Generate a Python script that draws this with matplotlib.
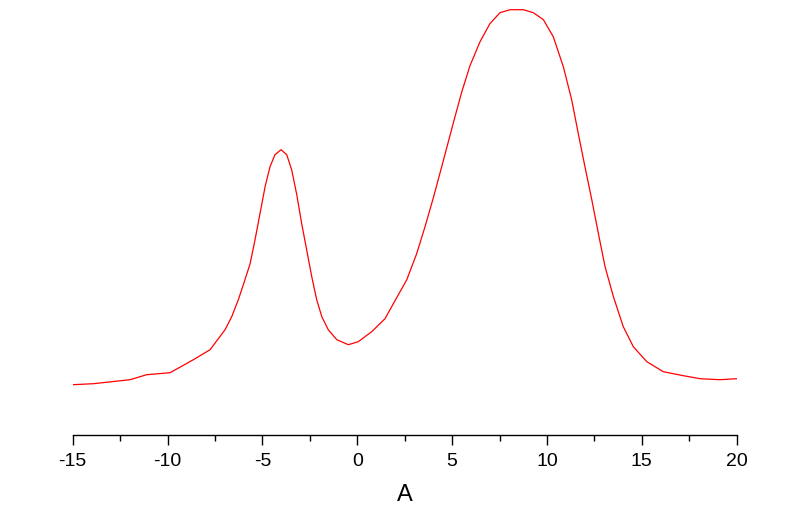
import matplotlib
matplotlib.use("Agg")
import matplotlib.pyplot as plt
from matplotlib.ticker import MultipleLocator

plt.rcParams['font.family'] = ['Liberation Sans', 'DejaVu Sans']

# Werte (Dichte, willkuerliche Einheit)
xWerte = [-15.0, -13.91, -11.98, -11.10, -9.87, -8.64, -7.76, -6.97, -6.62, -6.27,
          -5.92, -5.65, -5.39, -5.13, -4.86, -4.60, -4.34, -4.02, -3.72, -3.46,
          -3.19, -2.93, -2.67, -2.40, -2.14, -1.87, -1.53, -1.08, -0.47, 0.05,
          0.76, 1.46, 1.90, 2.61, 3.13, 3.57, 4.01, 4.45, 4.80, 5.15,
          5.51, 5.94, 6.47, 6.99, 7.52, 8.05, 8.75, 9.28, 9.81, 10.33,
          10.86, 11.30, 11.65, 12.00, 12.36, 12.71, 13.06, 13.50, 14.02, 14.55,
          15.26, 16.13, 17.19, 18.07, 19.12, 20.0]
yWerte = [0.050, 0.051, 0.055, 0.060, 0.062, 0.075, 0.085, 0.105, 0.118, 0.135,
          0.155, 0.171, 0.195, 0.221, 0.248, 0.268, 0.280, 0.285, 0.280, 0.265,
          0.240, 0.211, 0.185, 0.158, 0.135, 0.118, 0.105, 0.095, 0.090, 0.093,
          0.103, 0.116, 0.131, 0.155, 0.181, 0.208, 0.237, 0.268, 0.293, 0.318,
          0.343, 0.369, 0.393, 0.411, 0.422, 0.425, 0.425, 0.422, 0.415, 0.398,
          0.368, 0.335, 0.301, 0.268, 0.235, 0.201, 0.168, 0.138, 0.108, 0.088,
          0.073, 0.063, 0.059, 0.056, 0.055, 0.056]
xTicks = [-15, -10, -5, 0, 5, 10, 15, 20]
xLabel = "A"

fig = plt.figure(figsize=(8, 5.3), dpi=100)
ax = fig.add_axes([0.0909, 0.1798, 0.83, 0.8202])

ax.plot(xWerte, yWerte, color="#FF0000", linewidth=0.9)

ax.set_xlim(-15, 20)
ax.set_ylim(0, 0.4347)
ax.set_xticks(xTicks)
ax.set_xticklabels([str(t) for t in xTicks])
ax.xaxis.set_minor_locator(MultipleLocator(2.5))

for s in ["left", "right", "top"]:
    ax.spines[s].set_visible(False)
ax.spines["bottom"].set_linewidth(1.0)
ax.set_yticks([])

ax.tick_params(axis="x", which="major", direction="out", length=7.5, width=1.0, pad=6, labelsize=14)
ax.tick_params(axis="x", which="minor", direction="out", length=4.5, width=1.0)
ax.set_xlabel(xLabel, fontsize=17, labelpad=10)

plt.savefig("out.png", dpi=100)
plt.close()
